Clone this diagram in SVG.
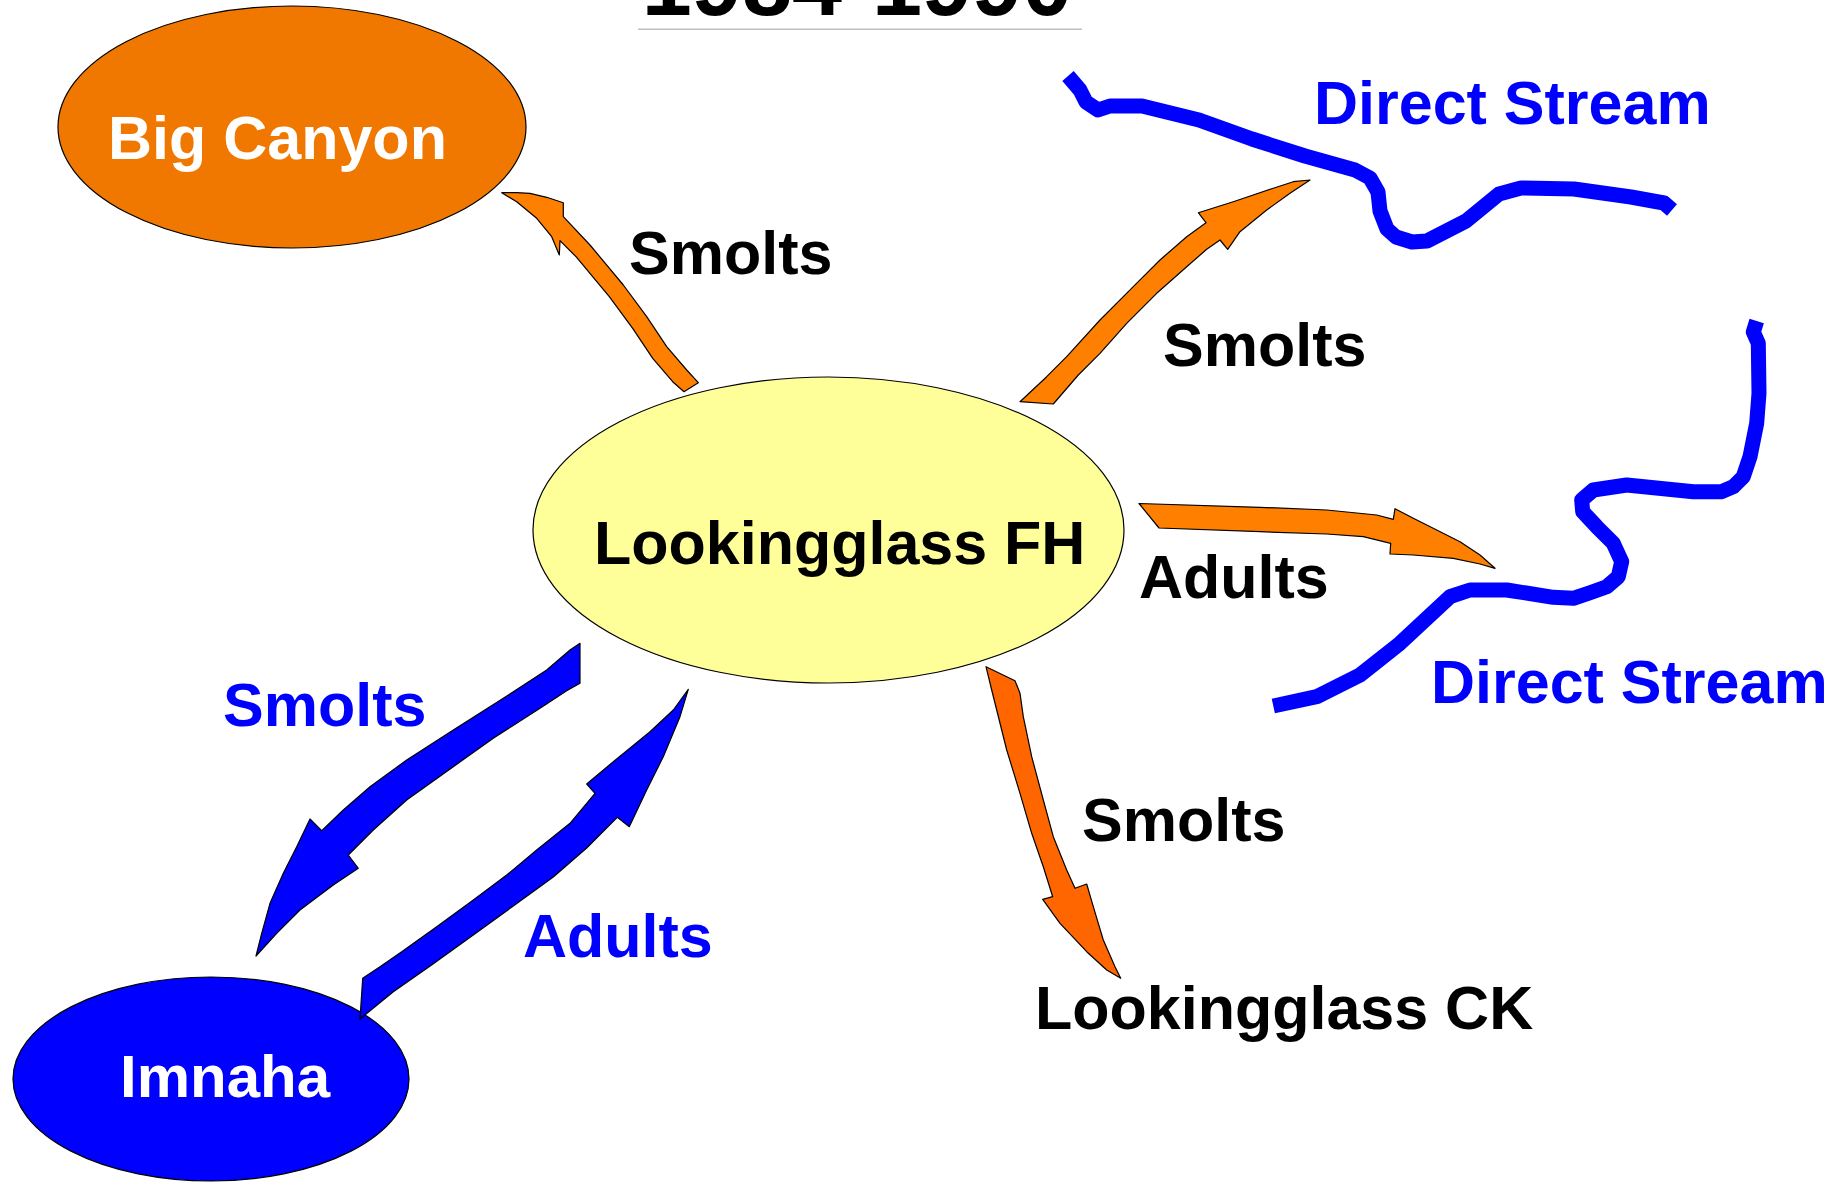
<svg xmlns="http://www.w3.org/2000/svg" width="1836" height="1182" viewBox="0 0 1836 1182">
  <style>
    text { font-family: "Liberation Sans", Arial, sans-serif; font-weight: bold; font-size: 61px; }
    .blk { fill: #000000; }
    .wht { fill: #ffffff; }
    .blu { fill: #0000ff; }
    .node { stroke: #000000; stroke-width: 1.2; }
    .arr { stroke: #000000; stroke-width: 1.2; stroke-linejoin: round; }
    .orange { fill: #ff8000; }
    .red { fill: #ff6600; }
    .blue { fill: #0000ff; }
    .stream { fill: none; stroke: #0000ff; stroke-width: 15; stroke-linejoin: round; stroke-linecap: butt; }
  </style>

  <g id="title">
    <text x="857" y="15" text-anchor="middle" class="blk" style="font-size:90px">1984-1990</text>
    <line x1="638" y1="29.3" x2="1082" y2="29.3" stroke="#c0c0c0" stroke-width="1.5"/>
  </g>

  <g id="streams">
    <polyline id="stream-top" class="stream" points="1068,76 1080,90 1086,102 1098,110 1110,106 1142,106 1199,120 1252,139 1305,156 1355,170 1370,178 1378,192 1380,211 1387,229 1396,237 1412,242 1427,241 1466,221 1499,194 1521,188 1574,189 1631,197 1664,203 1672,210"/>
    <polyline id="stream-right" class="stream" points="1756.7,321 1753.3,332 1758.3,343.3 1759,393.3 1756.7,423.3 1750,456.7 1743.3,476.7 1733.3,486.7 1721.7,491.7 1693.3,491.7 1626.7,485 1593.3,490 1581.7,500 1582.7,511.7 1596.7,526.7 1613.3,543.3 1621.7,561.7 1618.3,576.7 1606.7,586.7 1590,592.7 1573.3,598.3 1553.3,597.3 1506.7,590 1470,590 1450,596.7 1400,643.3 1360,675 1316.7,696.7 1273.3,706"/>
  </g>

  <g id="node-big-canyon">
    <ellipse class="node" cx="292" cy="127" rx="234" ry="121" fill="#f07800"/>
    <text x="108" y="159" class="wht">Big Canyon</text>
  </g>

  <g id="node-lookingglass-fh">
    <ellipse class="node" cx="828.5" cy="530" rx="295.5" ry="153" fill="#ffff99"/>
    <text x="594" y="564" class="blk">Lookingglass FH</text>
  </g>

  <g id="node-imnaha">
    <ellipse class="node" cx="211" cy="1079" rx="198" ry="102" fill="#0000ff"/>
    <text x="120" y="1097" class="wht" style="font-size:60px">Imnaha</text>
  </g>

  <g id="node-lookingglass-ck">
    <text x="1035" y="1029" class="blk">Lookingglass CK</text>
  </g>

  <g id="node-direct-stream-top">
    <text x="1314" y="124" class="blu">Direct Stream</text>
  </g>

  <g id="node-direct-stream-bottom">
    <text x="1431" y="703" class="blu">Direct Stream</text>
  </g>

  <g id="connectors">
    <path id="arrow-big-canyon" class="arr orange" d="M501.7,192.7 L516.7,192.7 L530,193.3 L546.7,197.3 L563.3,202.7 L563.3,216.7 L590,245 L623.3,285 L646.7,316.7 L666.7,346.7 L686.7,370 L698.3,382.7 L684,391.7 L672.7,381.7 L652.7,358.3 L632.7,328.3 L609.3,296.7 L576,256.7 L560,240.7 L559.3,255 L551.7,236.7 L536.7,218.3 L516.7,201.7 Z"/>
    <path id="arrow-direct-top" class="arr orange" d="M1020,401.7 L1053.3,404 L1078.3,375 L1100,353.3 L1126.7,323.3 L1156.7,293.3 L1186.7,266.7 L1206.7,249.3 L1220,240 L1227.7,249.3 L1240,231.7 L1266.7,210 L1290,193.3 L1310,180 L1293.3,181.7 L1273.3,188.3 L1233.3,201.7 L1198.3,212.7 L1206,222.7 L1186.7,236.7 L1160,260 L1133.3,286.7 L1100,320 L1066.7,356.7 L1046.7,376.7 Z"/>
    <path id="arrow-direct-bottom" class="arr orange" d="M1139,503.5 L1260,507.3 L1326.7,510 L1376.7,515 L1393.3,519.3 L1395,508.7 L1413.3,518.3 L1436.7,530 L1460,541.7 L1480,555 L1495,568.3 L1480,564 L1453.3,558.3 L1413.3,555 L1390,554 L1390.7,543.3 L1363.3,536.7 L1326.7,534 L1260,531.7 L1159,528 Z"/>
    <path id="arrow-lookingglass-ck" class="arr red" d="M986,666.7 L1015,680.7 L1020,693.3 L1023.3,716.7 L1031.7,756.7 L1043.3,800 L1053.3,836.7 L1066.7,870 L1075,888.3 L1086.7,884 L1093.3,906.7 L1103.3,940 L1115,966.7 L1120.7,978.3 L1106.7,970 L1086.7,951.7 L1060,923.3 L1042.7,899.3 L1052.7,896.7 L1043.3,866.7 L1031.7,833.3 L1020,793.3 L1006.7,750 L996.7,710 L991.7,690 Z"/>
    <path id="arrow-imnaha-smolts" class="arr blue" d="M580,643.3 L580,683.3 L566.7,690.7 L540,708.3 L493.3,738.3 L453.3,766.7 L406.7,800 L373.3,830 L348.3,855 L358.3,868.3 L333.3,885 L300,910 L276.7,933.3 L256,956 L261.7,933.3 L270,903.3 L283.3,873.3 L296.7,846.7 L310,819 L321.7,830.7 L343.3,810 L370,786.7 L406.7,760 L453.3,730 L503.3,698.3 L546.7,670 L570,650 Z"/>
    <path id="arrow-imnaha-adults" class="arr blue" d="M362.7,978.3 L380,966.7 L401.7,951.7 L436.7,926.7 L473.3,900 L506.7,875 L536.7,850 L570,823.3 L595,793.3 L586.7,784 L613.3,761.7 L650,731.7 L673.3,710 L688.3,689.3 L680,716.7 L663.3,756.7 L646.7,790 L629.3,826.7 L617.3,817.3 L586.7,848 L553.3,877 L513.3,906 L473.3,935 L433,964 L393,992 L360,1019 Z"/>
    <g id="connector-labels">
      <text x="629" y="274" class="blk">Smolts</text>
      <text x="1163" y="366" class="blk">Smolts</text>
      <text x="1139" y="598" class="blk">Adults</text>
      <text x="1082" y="841" class="blk">Smolts</text>
      <text x="223" y="726" class="blu">Smolts</text>
      <text x="523" y="957" class="blu">Adults</text>
    </g>
  </g>
</svg>
